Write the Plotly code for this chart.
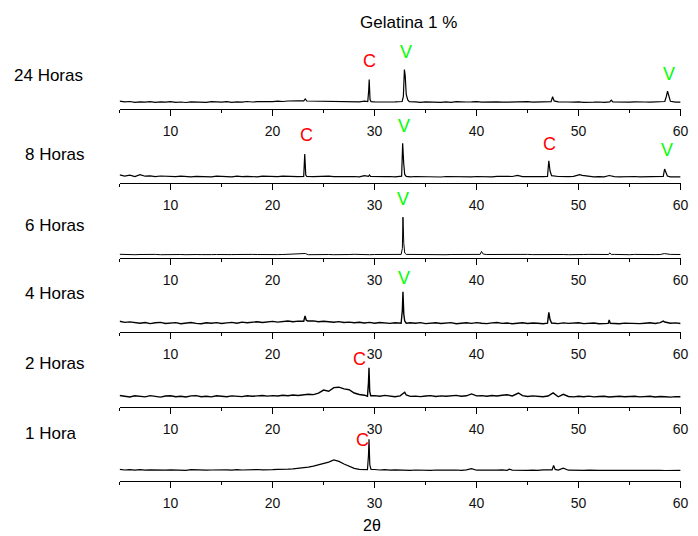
import plotly.graph_objects as go

W, H = 698, 536

# ---------------- data (intensity in arbitrary units above each axis) -------------
panel_labels = ["24 Horas", "8 Horas", "6 Horas", "4 Horas", "2 Horas", "1 Hora"]
tick_vals = [10, 20, 30, 40, 50, 60]
x_start, x_step = 5.0, 0.5

base_24h = [7.4, 6.6, 7.0, 6.2, 6.7, 6.4, 6.9, 6.1, 6.6, 6.3,
            6.8, 6.2, 6.5, 6.0, 6.6, 6.3, 6.5, 6.1, 6.8, 6.3,
            6.4, 6.9, 6.2, 6.7, 6.4, 7.0, 6.5, 6.8, 6.6, 7.1,
            6.9, 7.3, 7.0, 7.5, 7.2, 7.6, 7.3, 7.7, 7.4, 7.8,
            7.5, 7.2, 7.5, 6.9, 7.3, 6.9, 7.1, 6.7, 7.4, 6.9,
            6.7, 6.4, 6.8, 6.5, 6.6, 6.4, 6.9, 6.3, 6.6, 6.2,
            6.7, 6.3, 6.5, 6.1, 6.6, 6.2, 6.8, 6.3, 6.5, 6.6,
            6.9, 6.4, 6.6, 6.2, 6.7, 6.3, 6.5, 6.1, 6.6, 6.4,
            6.8, 6.3, 6.5, 6.2, 6.7, 6.4, 6.6, 6.2, 6.5, 6.3,
            6.7, 6.2, 6.6, 6.3, 6.5, 6.1, 6.6, 6.4, 6.2, 6.5,
            6.3, 6.6, 6.2, 6.5, 6.3, 6.7, 6.4, 6.8, 6.5, 6.3,
            6.4]
peaks_24h_x = [23.05, 23.2, 23.35,
               29.33, 29.42, 29.47, 29.55, 29.65,
               32.7, 32.82, 32.92, 33.0, 33.1, 33.25, 33.4,
               47.3, 47.45, 47.6,
               53.05, 53.2, 53.35,
               58.45, 58.6, 58.72, 58.85, 59.0]
peaks_24h_y = [7.6, 9.6, 7.5,
               7.0, 18.0, 29.0, 9.0, 6.9,
               7.0, 12.0, 39.0, 33.0, 14.0, 8.5, 6.8,
               6.9, 11.7, 7.6,
               6.6, 8.3, 6.5,
               7.0, 12.0, 17.3, 12.5, 7.2]

base_8h = [8.2, 6.9, 7.8, 6.5, 8.4, 6.8, 7.2, 6.4, 7.0, 6.6,
           6.9, 6.3, 6.8, 6.5, 6.2, 6.7, 6.4, 6.6, 6.1, 6.8,
           6.4, 6.6, 6.2, 6.9, 6.3, 6.7, 6.5, 6.2, 6.8, 6.4,
           6.6, 6.3, 6.9, 6.5, 6.7, 6.3, 6.6, 6.8, 6.4, 6.7,
           6.5, 6.9, 6.4, 6.6, 6.3, 6.8, 6.5, 6.2, 7.3, 6.6,
           6.4, 6.7, 6.3, 6.5, 6.2, 6.6, 6.4, 6.1, 6.5, 6.3,
           6.6, 6.2, 6.4, 6.0, 6.5, 6.3, 6.8, 6.2, 6.4, 6.1,
           6.5, 6.3, 6.6, 6.2, 6.7, 6.4, 6.2, 6.5, 7.4, 6.3,
           6.5, 6.2, 6.6, 6.3, 6.4, 6.0, 6.5, 6.2, 6.3, 6.6,
           6.3, 6.2, 6.5, 6.1, 6.4, 6.2, 6.8, 6.3, 6.1, 6.4,
           6.2, 6.5, 6.1, 6.3, 6.0, 6.4, 6.2, 6.5, 6.1, 6.3,
           6.2]
peaks_8h_x = [23.05, 23.15, 23.25, 23.35,
              29.4, 29.5, 29.6,
              32.65, 32.75, 32.85, 32.95, 33.1,
              44.0,
              46.95, 47.08, 47.2, 47.35,
              50.1, 50.35,
              53.0,
              58.3, 58.43, 58.55, 58.7]
peaks_8h_y = [6.6, 29.0, 8.0, 6.5,
              6.7, 8.0, 6.6,
              6.8, 39.7, 20.0, 8.5, 6.6,
              7.6,
              6.6, 22.3, 12.0, 7.3,
              8.4, 7.6,
              7.5,
              6.7, 14.0, 10.5, 7.0]

base_6h = [3.2, 2.9, 3.1, 2.8, 3.0, 3.2, 2.9, 3.1, 2.8, 3.0,
           3.1, 2.9, 3.0, 2.8, 3.1, 3.0, 2.9, 3.2, 2.9, 3.0,
           2.8, 3.1, 2.9, 3.0, 3.2, 2.9, 3.1, 3.0, 2.8, 3.0,
           3.1, 2.9, 3.0, 3.2, 2.9, 3.0, 3.1, 2.8, 3.0, 2.9,
           3.1, 3.0, 2.8, 3.1, 2.9, 3.0, 3.2, 2.9, 3.0, 2.8,
           3.0, 3.1, 2.9, 3.0, 2.8, 3.1, 2.9, 3.0, 3.1, 2.8,
           3.0, 2.9, 3.1, 3.0, 2.8, 3.0, 3.1, 2.9, 3.0, 2.9,
           3.1, 2.8, 3.0, 3.1, 2.9, 3.0, 2.8, 3.1, 2.9, 3.0,
           3.1, 2.9, 3.0, 2.8, 3.0, 3.1, 2.9, 3.0, 2.8, 3.1,
           2.9, 3.0, 3.1, 2.9, 3.0, 2.8, 3.0, 3.1, 2.9, 3.0,
           2.8, 3.1, 2.9, 3.0, 3.1, 2.9, 3.0, 2.8, 3.1, 2.9,
           3.0]
peaks_6h_x = [23.2,
              32.6, 32.72, 32.78, 32.86, 32.95, 33.1,
              40.35, 40.48, 40.65,
              52.95, 53.05, 53.2,
              58.4]
peaks_6h_y = [4.0,
              3.1, 9.0, 40.3, 14.0, 4.5, 3.1,
              3.1, 6.0, 3.4,
              3.0, 4.6, 3.1,
              3.9]

base_4h = [10.8, 9.6, 10.1, 9.3, 8.7, 9.5, 8.4, 9.2, 9.6, 8.5,
           8.9, 9.4, 8.3, 9.0, 9.5, 8.6, 8.2, 9.3, 8.8, 9.4,
           8.5, 9.1, 9.6, 8.8, 9.9, 9.2, 9.6, 10.3, 9.5, 10.1,
           10.6, 9.9, 10.4, 11.0, 10.2, 10.9, 11.3, 10.5, 11.1, 10.3,
           10.8, 10.1, 9.7, 10.4, 9.5, 9.9, 9.2, 9.8, 9.0, 9.6,
           8.8, 9.5, 9.1, 8.6, 9.3, 8.9, 8.5, 9.2, 8.7, 9.4,
           8.4, 9.0, 9.3, 8.5, 8.9, 9.4, 8.3, 8.8, 9.2, 8.6,
           9.4, 8.7, 8.4, 9.1, 9.5, 8.6, 9.0, 8.3, 8.9, 9.3,
           8.5, 9.0, 8.7, 8.3, 9.2, 8.8, 8.4, 9.1, 8.6, 8.9,
           9.2, 8.4, 8.8, 9.0, 8.3, 8.7, 9.1, 8.5, 8.2, 8.9,
           8.6, 9.0, 8.4, 8.8, 9.2, 8.5, 9.4, 9.0, 8.7, 9.1,
           8.5]
peaks_4h_x = [23.05, 23.18, 23.3, 23.45,
              32.6, 32.72, 32.78, 32.86, 32.95, 33.1,
              46.95, 47.08, 47.2, 47.35,
              52.9, 53.0, 53.1,
              58.3, 58.45]
peaks_4h_y = [10.8, 16.0, 11.8, 11.0,
              8.7, 22.0, 40.3, 18.0, 11.0, 8.8,
              8.9, 19.7, 12.5, 9.0,
              8.6, 12.0, 8.7,
              10.9, 10.0]

base_2h = [11.0, 10.2, 9.5, 10.7, 10.1, 9.6, 10.9, 10.0, 9.4, 10.5,
           10.8, 9.7, 10.3, 9.5, 10.6, 10.9, 9.8, 10.2, 9.6, 10.7,
           10.1, 9.8, 10.6, 10.3, 9.9, 10.8, 10.2, 10.6, 11.0, 10.4,
           10.9, 10.5, 11.2, 10.8, 11.5, 11.0, 11.8, 12.3, 11.9, 13.4,
           16.4, 15.3, 18.9, 19.3, 17.6, 16.8, 13.5, 12.0, 11.3, 10.7,
           10.9, 10.2, 11.1, 10.5, 9.8, 10.6, 11.0, 10.1, 10.4, 9.9,
           10.5, 10.9, 10.0, 10.6, 10.2, 10.8, 11.1, 10.3, 10.7, 10.1,
           10.6, 10.9, 10.3, 11.0, 10.5, 11.3, 11.7, 10.6, 10.2, 10.8,
           10.0, 10.6, 10.3, 9.8, 10.5, 10.1, 9.7, 10.4, 10.0, 9.6,
           10.2, 9.8, 10.4, 9.6, 10.0, 10.3, 9.5, 9.9, 10.2, 9.7,
           9.9, 10.3, 9.6, 9.8, 10.2, 9.5, 10.0, 9.7, 9.4, 9.9,
           9.7]
peaks_2h_x = [29.3, 29.4, 29.45, 29.52, 29.62,
              32.95, 33.1,
              39.5,
              43.9, 44.1,
              47.5,
              48.5]
peaks_2h_y = [10.3, 24.0, 38.7, 15.0, 10.8,
              14.3, 11.5,
              12.6,
              12.5, 13.5,
              13.6,
              12.2]

base_1h = [11.6, 11.0, 11.4, 10.9, 11.3, 10.8, 11.2, 11.0, 11.5, 10.9,
           11.2, 10.8, 11.1, 10.7, 11.3, 10.9, 11.2, 10.8, 11.0, 11.3,
           10.9, 11.2, 10.8, 11.4, 11.0, 11.3, 11.1, 11.5, 11.2, 11.6,
           11.3, 11.6, 11.4, 11.8, 12.1, 12.5, 13.2, 13.9, 14.9, 16.0,
           17.3, 18.9, 21.0, 19.6, 17.0, 14.6, 12.6, 11.6, 11.3, 11.2,
           11.5, 11.0, 11.3, 10.8, 11.2, 10.9, 11.1, 10.7, 11.0, 10.8,
           11.1, 10.7, 11.0, 10.8, 11.2, 10.9, 11.0, 10.6, 11.1, 11.0,
           10.8, 11.1, 10.7, 11.0, 10.8, 11.2, 10.7, 10.9, 10.6, 11.0,
           10.7, 10.9, 10.6, 11.1, 10.8, 10.7, 10.9, 10.6, 10.8, 10.5,
           10.8, 10.6, 10.9, 10.5, 10.7, 10.6, 10.8, 10.5, 10.7, 10.6,
           10.8, 10.5, 10.7, 10.6, 10.8, 10.4, 10.7, 10.5, 10.6, 10.5,
           10.6]
peaks_1h_x = [29.3, 29.4, 29.45, 29.53, 29.65,
              39.5,
              43.2,
              47.4, 47.55, 47.7,
              48.5]
peaks_1h_y = [11.3, 26.0, 41.7, 16.0, 11.5,
              12.4,
              11.8,
              11.2, 15.5, 11.6,
              12.8]

# phase markers: (panel index, letter, 2theta, height in panel units)
marker_panel = [0, 0, 0, 1, 1, 1, 1, 2, 3, 4, 5]
marker_text = ["C", "V", "V", "C", "V", "C", "V", "V", "V", "C", "C"]
marker_x = [29.48, 33.05, 58.85, 23.28, 32.93, 47.17, 58.7, 32.81, 32.86, 28.55, 28.84]
marker_y = [47.3, 56.3, 34.7, 48.0, 57.3, 38.7, 33.3, 58.7, 54.3, 47.7, 41.0]

# ---------------- build -----------------------------------------------------------
bases = [base_24h, base_8h, base_6h, base_4h, base_2h, base_1h]
peaks_x = [peaks_24h_x, peaks_8h_x, peaks_6h_x, peaks_4h_x, peaks_2h_x, peaks_1h_x]
peaks_y = [peaks_24h_y, peaks_8h_y, peaks_6h_y, peaks_4h_y, peaks_2h_y, peaks_1h_y]
line_w = [1.2, 1.2, 1.0, 1.4, 1.4, 1.2]

axis_px = [108.5, 183.0, 257.5, 332.0, 406.5, 481.0]   # pixel row of each x axis
panel_h = 72.0
x_left, x_right = 121.0, 688.5
label_px = [(12, 75), (23, 154), (23, 225), (23, 293), (23, 363), (23, 433)]

FONT = "Arial, Liberation Sans, Helvetica, sans-serif"

fig = go.Figure()
layout = dict(width=W, height=H, margin=dict(l=0, r=0, t=0, b=0),
              paper_bgcolor="white", plot_bgcolor="white", showlegend=False,
              font=dict(family=FONT, color="black"))
annotations = []

for i in range(6):
    grid = [(x_start + x_step * k, v) for k, v in enumerate(bases[i])]
    pts = [(gx, gy) for gx, gy in grid if all(abs(gx - p) > 0.2 for p in peaks_x[i])]
    pts += list(zip(peaks_x[i], peaks_y[i]))
    pts.sort()
    sfx = "" if i == 0 else str(i + 1)
    fig.add_trace(go.Scatter(x=[p[0] for p in pts], y=[p[1] for p in pts],
                             mode="lines", line=dict(color="black", width=line_w[i]),
                             xaxis="x" + sfx, yaxis="y" + sfx, hoverinfo="skip"))
    y0 = 1 - axis_px[i] / H
    y1 = 1 - (axis_px[i] - panel_h) / H
    layout["xaxis" + sfx] = dict(
        domain=[x_left / W, x_right / W], anchor="y" + sfx, range=[5, 60],
        tickmode="array", tickvals=tick_vals, showgrid=False, zeroline=False,
        showline=True, linecolor="black", linewidth=1.3, fixedrange=True,
        ticks="outside", ticklen=6, tickwidth=1.3, tickcolor="black",
        tickfont=dict(size=14, color="#111", family=FONT), ticklabelstandoff=3,
        minor=dict(ticks="outside", ticklen=3, tickwidth=1.3, tickcolor="black",
                   tickmode="array", tickvals=[5, 15, 25, 35, 45, 55]))
    layout["yaxis" + sfx] = dict(domain=[y0, y1], anchor="x" + sfx, range=[0, panel_h],
                                 visible=False, fixedrange=True)
    lx, ly = label_px[i]
    annotations.append(dict(text=panel_labels[i], xref="paper", yref="paper",
                            x=lx / W, y=1 - ly / H, xanchor="left", yanchor="middle",
                            showarrow=False, font=dict(size=17, color="black")))

for p, t, mx, my in zip(marker_panel, marker_text, marker_x, marker_y):
    sfx = "" if p == 0 else str(p + 1)
    annotations.append(dict(text=t, xref="x" + sfx, yref="y" + sfx, x=mx, y=my,
                            xanchor="center", yanchor="middle", showarrow=False,
                            font=dict(size=18, color="#FF0000" if t == "C" else "#00FF00")))

annotations.append(dict(text="Gelatina 1 %", xref="paper", yref="paper",
                        x=413 / W, y=1 - 23 / H, xanchor="center", yanchor="middle",
                        showarrow=False, font=dict(size=17, color="black")))
annotations.append(dict(text="2θ", xref="paper", yref="paper",
                        x=376 / W, y=1 - 525 / H, xanchor="center", yanchor="middle",
                        showarrow=False, font=dict(size=16, color="black")))

layout["annotations"] = annotations
fig.update_layout(**layout)
fig.write_html("out.html", config={"displayModeBar": False, "staticPlot": True},
               post_script="document.body.style.margin='0px';")
